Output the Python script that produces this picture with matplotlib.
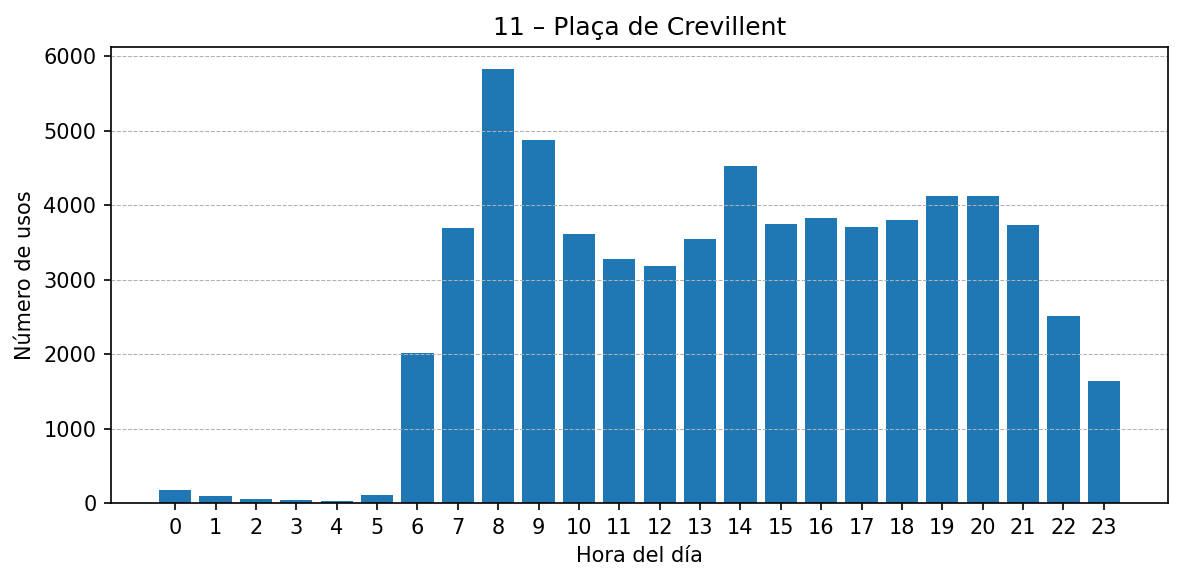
import numpy as np
import matplotlib
matplotlib.use("Agg")
import matplotlib.pyplot as plt

horas = list(range(24))
usos = [170, 90, 55, 40, 25, 105, 2010, 3690, 5830, 4875, 3615, 3280,
        3175, 3550, 4530, 3750, 3825, 3705, 3800, 4125, 4125, 3730, 2505, 1635]

fig, ax = plt.subplots(figsize=(1184 / 150, 581 / 150), dpi=150)
ax.bar(horas, usos, color='#1f77b4')
ax.set_xticks(horas)
ax.set_title('11 – Plaça de Crevillent', fontsize=12)
ax.set_xlabel('Hora del día')
ax.set_ylabel('Número de usos')
ax.grid(axis='y', linestyle='--', linewidth=0.5, color='#b0b0b0')

fig.subplots_adjust(left=111 / 1184, right=1168 / 1184, top=1 - 47 / 581, bottom=1 - 503 / 581)
fig.savefig('out.png', dpi=150)
